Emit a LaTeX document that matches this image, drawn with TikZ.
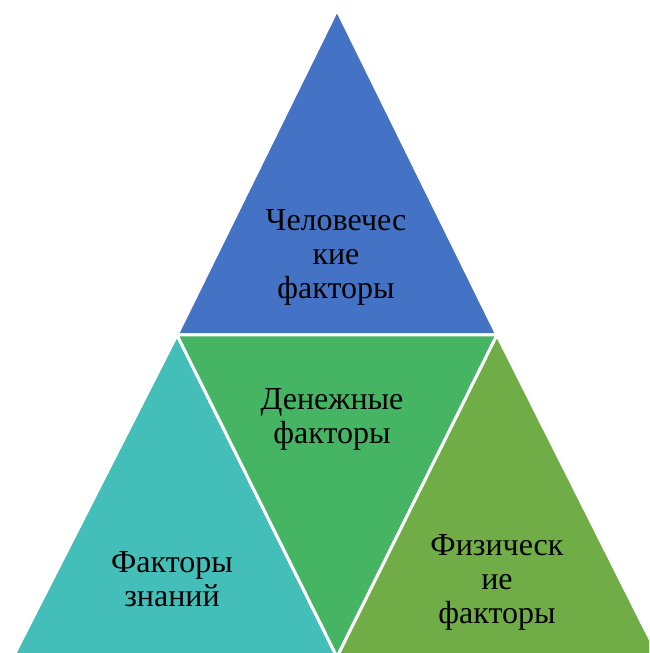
\documentclass[tikz,border=0pt]{standalone}
\usepackage{fontspec}
\setmainfont{Liberation Serif}
\definecolor{cblue}{HTML}{4472C4}
\definecolor{cteal}{HTML}{43BEB9}
\definecolor{cgreen}{HTML}{45B564}
\definecolor{colive}{HTML}{70AD47}
\begin{document}
\begin{tikzpicture}[x=1pt,y=1pt,
  tri/.style={draw=white,line width=3pt,line join=miter},
  lbl/.style={align=center,font=\fontsize{32}{34}\selectfont,text=black,inner sep=0pt}]
\useasboundingbox (0,0) rectangle (649,653);
\clip (0,0) rectangle (649,653);
\coordinate (A) at (337,643);
\coordinate (L) at (177,318);
\coordinate (R) at (497,318);
\coordinate (BL) at (13,-4);
\coordinate (BM) at (337,-4);
\coordinate (BR) at (659,-4);
\filldraw[tri,fill=cblue] (A) -- (L) -- (R) -- cycle;
\filldraw[tri,fill=cteal] (L) -- (BL) -- (BM) -- cycle;
\filldraw[tri,fill=cgreen] (L) -- (R) -- (BM) -- cycle;
\filldraw[tri,fill=colive] (R) -- (BM) -- (BR) -- cycle;
\node[lbl] (t1) at (336,396) {Человечес\\кие\\факторы};
\node[lbl] (t2) at (332,234) {Денежные\\факторы};
\node[lbl] (t3) at (172,74) {Факторы\\знаний};
\node[lbl] (t4) at (497,71) {Физическ\\ие\\факторы};
\end{tikzpicture}
\end{document}
